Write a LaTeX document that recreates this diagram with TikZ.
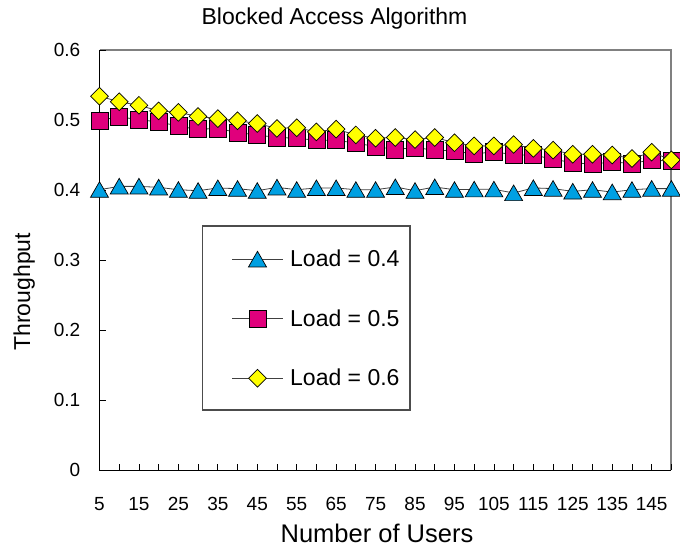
\documentclass[tikz,border=0pt]{standalone}
\usepackage{fontspec}
\setmainfont{Liberation Sans}
\usetikzlibrary{shapes.geometric}

\definecolor{triblue}{RGB}{0,160,226}
\definecolor{sqpink}{RGB}{224,0,124}
\definecolor{diayellow}{RGB}{255,255,0}
\definecolor{framegray}{RGB}{128,128,128}

\begin{document}
\begin{tikzpicture}[x=1pt,y=-1pt,
  trimark/.style={regular polygon, regular polygon sides=3, minimum size=20.8pt,
    inner sep=0pt, draw=black, line width=0.7pt, fill=triblue, yshift=-2.4pt},
  sqmark/.style={rectangle, minimum size=17pt, inner sep=0pt,
    draw=black, line width=0.7pt, fill=sqpink},
  diamark/.style={diamond, minimum width=18pt, minimum height=18pt, inner sep=0pt,
    draw=black, line width=0.7pt, fill=diayellow},
  series/.style={draw=black!75, line width=0.8pt},
  axisline/.style={draw=black, line width=1pt},
  frameline/.style={draw=framegray, line width=1.2pt},
  tickline/.style={draw=black, line width=0.8pt},
  ticklabel/.style={inner sep=0pt, font=\fontsize{19}{22}\selectfont},
  bigtext/.style={inner sep=0pt, font=\fontsize{23}{27}\selectfont},
  axistitle/.style={inner sep=0pt, font=\fontsize{25.5}{30}\selectfont},
  legendbox/.style={draw=black!70, line width=1.1pt, minimum width=207.5pt,
    minimum height=184pt, inner sep=0pt},
]
\useasboundingbox (0,0) rectangle (680,548);

% plot frame and axes
\draw[frameline] (99.5,50) -- (671,50) -- (671,470);
\draw[axisline] (99.5,50) -- (99.5,470) -- (671,470);

% y ticks and labels
\foreach \k/\lab in {0/0,1/0.1,2/0.2,3/0.3,4/0.4,5/0.5,6/0.6} {
  \draw[tickline] (99.5,{470-70*\k}) -- (105.5,{470-70*\k});
  \node[ticklabel, anchor=east] (ylab\k) at (80.5,{470-70*\k}) {\lab};
}
% x ticks
\foreach \i in {1,...,29} {
  \draw[tickline] ({99.5+19.72*\i},470) -- ({99.5+19.72*\i},463.5);
}
% x labels
\foreach \i/\lab in {0/5,2/15,4/25,6/35,8/45,10/55,12/65,14/75,16/85,18/95,
                     20/105,22/115,24/125,26/135,28/145} {
  \node[ticklabel, anchor=base] (xlab\i) at ({99.5+19.72*\i},510.7) {\lab};
}

% titles
\node[bigtext, anchor=base] (title) at (334.5,25) {Blocked Access Algorithm};
\node[axistitle, anchor=base] (xtitle) at (377,542.7) {Number of Users};
\node[bigtext, anchor=base, rotate=90] (ytitle) at (30,291.7) {Throughput};

% series: Load = 0.4
\foreach \v [count=\i from 0] in {0.4004,0.4052,0.4052,0.4038,0.4004,0.399,0.4029,0.4019,0.399,0.4038,
  0.4004,0.4029,0.4029,0.4004,0.4004,0.4043,0.399,0.4043,0.4004,0.401,
  0.401,0.3957,0.403,0.402,0.398,0.4004,0.397,0.4004,0.402,0.402} {
  \coordinate (t\i) at ({99.5+19.72*\i},{470-700*\v});
}
\draw[series] (t0) \foreach \i in {1,...,29} { -- (t\i) };
\foreach \i in {0,...,29} { \node[trimark] (tm\i) at (t\i) {}; }

% series: Load = 0.5
\foreach \v [count=\i from 0] in {0.499,0.505,0.500,0.4976,0.491,0.4867,0.488,0.482,0.4786,0.475,
  0.474,0.471,0.471,0.467,0.462,0.458,0.4605,0.457,0.456,0.451,
  0.455,0.450,0.450,0.444,0.439,0.437,0.440,0.438,0.443,0.441} {
  \coordinate (s\i) at ({99.5+19.72*\i},{470-700*\v});
}
\draw[series] (s0) \foreach \i in {1,...,29} { -- (s\i) };
\foreach \i in {0,...,29} { \node[sqmark] (sm\i) at (s\i) {}; }

% series: Load = 0.6
\foreach \v [count=\i from 0] in {0.534,0.526,0.521,0.513,0.511,0.505,0.502,0.499,0.495,0.488,
  0.489,0.483,0.487,0.4786,0.474,0.475,0.472,0.475,0.4676,0.463,
  0.463,0.465,0.4595,0.457,0.451,0.451,0.450,0.445,0.454,0.443} {
  \coordinate (d\i) at ({99.5+19.72*\i},{470-700*\v});
}
\draw[series] (d0) \foreach \i in {1,...,29} { -- (d\i) };
\foreach \i in {0,...,29} { \node[diamark] (dm\i) at (d\i) {}; }

% legend
\node[legendbox, fill=white] (legend) at (306.25,318) {};
\foreach \n/\yy/\sty/\lab in {a/259.3/trimark/0.4, b/318.8/sqmark/0.5, c/378.3/diamark/0.6} {
  \coordinate (la\n) at (232,\yy);
  \coordinate (lb\n) at (283,\yy);
  \draw[series] (la\n) -- (lb\n);
  \node[\sty] (lm\n) at (257.5,\yy) {};
  \node[bigtext, anchor=base west] (lt\n) at (290,{\yy+7.5}) {Load = \lab};
}
\end{tikzpicture}
\end{document}
